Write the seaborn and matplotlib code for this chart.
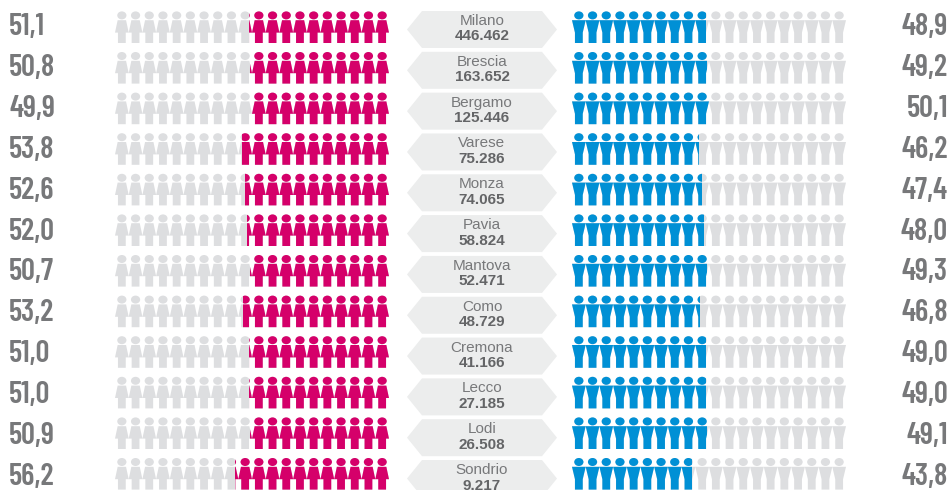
import matplotlib
matplotlib.use("Agg")
import matplotlib.pyplot as plt
import numpy as np
import pandas as pd
import seaborn as sns
from matplotlib.path import Path
from matplotlib.patches import Polygon
from matplotlib.transforms import Affine2D

cities = ["Milano", "Brescia", "Bergamo", "Varese", "Monza", "Pavia", "Mantova",
          "Como", "Cremona", "Lecco", "Lodi", "Sondrio"]
population = ["446.462", "163.652", "125.446", "75.286", "74.065", "58.824",
              "52.471", "48.729", "41.166", "27.185", "26.508", "9.217"]
female = [51.1, 50.8, 49.9, 53.8, 52.6, 52.0, 50.7, 53.2, 51.0, 51.0, 50.9, 56.2]
male = [48.9, 49.2, 50.1, 46.2, 47.4, 48.0, 49.3, 46.8, 49.0, 49.0, 49.1, 43.8]
whole = [100] * len(cities)

PINK, BLUE, GREY = "#D5006A", "#0090D5", "#DDDEE0"
HEX, TXT, TXT2, VAL = "#ECEDED", "#77787A", "#646567", "#77787A"

W, H = 951, 490
ROW0, PITCH = 27.0, 40.6
TEXT_PITCH = 40.82
ylim = ((H - ROW0) / PITCH, -ROW0 / PITCH)

sns.set_theme(style="white")
plt.rcParams["font.family"] = ["Liberation Sans", "DejaVu Sans"]
fig = plt.figure(figsize=(W / 100, H / 100), dpi=100)

df = pd.DataFrame({"city": cities, "female": female, "male": male, "whole": whole})


def person_path(n_rows, woman):
    """Compound path of 20 icons per row, in percent (x) / row (y) units."""
    px = 100 / 274.0          # percent per pixel
    parts = []
    for r in range(n_rows):
        for i in range(20):
            cx = 2.5 + 5 * i
            head = Affine2D().scale(4.6 * px, 4.0 / PITCH).translate(cx, r - 11.6 / PITCH)
            parts.append(Path.unit_circle().transformed(head))
            top, mid, bot = -6.8 / PITCH, 5.6 / PITCH, 16 / PITCH
            nar, wide, leg = 4.2 * px, 2.5, 3.9 * px
            if woman:
                pts = [(-nar, top), (nar, top), (wide, mid), (leg, mid), (leg, bot),
                       (-leg, bot), (-leg, mid), (-wide, mid), (-nar, top)]
            else:
                pts = [(-wide, top), (wide, top), (leg, mid), (leg, bot), (-leg, bot),
                       (-leg, mid), (-wide, top)]
            pts = [(cx + a, r + b) for a, b in pts]
            codes = [Path.MOVETO] + [Path.LINETO] * (len(pts) - 2) + [Path.CLOSEPOLY]
            parts.append(Path(pts, codes))
    return Path.make_compound_path(*parts)


# Background axes: hexagons and text, in pixel x and pixel y
bg = fig.add_axes([0, 0, 1, 1], zorder=0)
bg.set_xlim(0, W)
bg.set_ylim(H, 0)
bg.axis("off")
hh = 18.5
for r, (c, p, f, m) in enumerate(zip(cities, population, female, male)):
    base = r * TEXT_PITCH
    y = 29.5 + base
    bg.add_patch(Polygon([(407, y), (422, y - hh), (542, y - hh), (557, y),
                          (542, y + hh), (422, y + hh)], closed=True, fc=HEX, ec="none"))
    bg.text(482, 21 + base, c, ha="center", va="center", fontsize=11, color=TXT)
    bg.text(482, 36.5 + base, p, ha="center", va="center", fontsize=11,
            fontweight="bold", color=TXT2)
    for x, v, ha in ((9, f, "left"), (948, m, "right")):
        bg.text(x, 27.5 + base, f"{v:.1f}".replace(".", ","), ha=ha, va="center",
                fontsize=22, fontweight=600, color=VAL,
                family=["Barlow Condensed", "Liberation Sans"])


def panel(x0, x1, col, color, woman, invert):
    ax = fig.add_axes([x0 / W, 0, (x1 - x0) / W, 1], zorder=1)
    ax.patch.set_alpha(0)
    sns.barplot(data=df, y="city", x="whole", orient="h", color=GREY, saturation=1,
                width=0.95, ax=ax)
    sns.barplot(data=df, y="city", x=col, orient="h", color=color, saturation=1,
                width=0.95, ax=ax)
    ax.set_xlim((100, 0) if invert else (0, 100))
    ax.set_ylim(*ylim)
    ax.axis("off")
    clip = person_path(len(cities), woman)
    for b in ax.patches:
        b.set_clip_path(clip, ax.transData)
        b.set_linewidth(0)


panel(115, 389, "female", PINK, True, True)
panel(572, 846, "male", BLUE, False, False)

fig.savefig("out.png", dpi=100)
